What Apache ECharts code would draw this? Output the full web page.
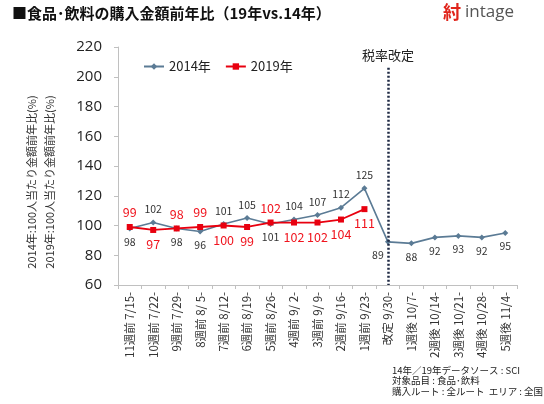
<!DOCTYPE html>
<html>
<head>
<meta charset="utf-8">
<script src="https://cdn.jsdelivr.net/npm/echarts@6/dist/echarts.min.js"></script>
<style>
html,body{margin:0;padding:0;background:#fff;}
#c{width:544px;height:404px;}
</style>
</head>
<body>
<div id="c"></div>
<script>
var categories = ['11週前 7/15-','10週前 7/22-','9週前 7/29-','8週前 8/ 5-','7週前 8/12-','6週前 8/19-','5週前 8/26-','4週前 9/ 2-','3週前 9/ 9-','2週前 9/16-','1週前 9/23-','改定 9/30-','1週後 10/7-','2週後 10/14-','3週後 10/21-','4週後 10/28-','5週後 11/4-'];
var values2014 = [98,102,98,96,101,105,101,104,107,112,125,89,88,92,93,92,95];
var values2019 = [99,97,98,99,100,99,102,102,102,104,111,null,null,null,null,null,null];
var labelPos2014 = ['bottom','top','bottom','bottom','top','top','bottom','top','top','top','top','left','bottom','bottom','bottom','bottom','bottom'];
var labelPos2019 = ['top','bottom','top','top','bottom','bottom','top','bottom','bottom','bottom','bottom'];
var yTicks = {min:60, max:220, interval:20};
var revisionCategory = '改定 9/30-';
var footnotes = ['14年／19年データソース : SCI','対象品目 : 食品･飲料','購入ルート : 全ルート  エリア : 全国'];

var FONT = '"Noto Sans CJK JP","Noto Sans",sans-serif';
var C2014 = '#5b7b95';
var C2019 = '#e8000f';

function buildData(vals, pos){
  return vals.map(function(v,i){
    if (v === null) return null;
    var p = pos[i];
    var lab = {position: p === 'left' ? 'bottom' : p};
    if (p === 'left') { lab.offset = [-10, 0]; }
    return {value: v, label: lab};
  });
}

var graphics = [
  {type:'text', left:12, top:6, style:{text:'■食品･飲料の購入金額前年比（19年vs.14年）', font:'bold 15px '+FONT, fill:'#111'}},
  {type:'text', left:443, top:3, style:{text:'紂', font:'bold 18px '+FONT, fill:'#e0241b'}},
  {type:'text', left:465, top:4, style:{text:'intage', font:'17px "Open Sans","Noto Sans",sans-serif', fill:'#555'}},
  {type:'text', x:32, y:182, rotation:Math.PI/2, style:{text:'2014年:100人当たり金額前年比(%)', font:'11px '+FONT, fill:'#333', textAlign:'center', textVerticalAlign:'middle'}},
  {type:'text', x:50, y:182, rotation:Math.PI/2, style:{text:'2019年:100人当たり金額前年比(%)', font:'11px '+FONT, fill:'#333', textAlign:'center', textVerticalAlign:'middle'}}
];
footnotes.forEach(function(t, i){
  graphics.push({type:'text', x:392, y:370 + i*10.7, style:{text:t, font:'9.5px '+FONT, fill:'#222', textVerticalAlign:'middle'}});
});

var chart = echarts.init(document.getElementById('c'), null, {renderer:'canvas'});
chart.setOption({
  animation:false,
  backgroundColor:'#fff',
  textStyle:{fontFamily:FONT},
  grid:{left:118, right:27, top:47, bottom:119, containLabel:false},
  legend:{
    left:138, top:55, itemWidth:20, itemHeight:8, itemGap:14,
    textStyle:{fontSize:13, color:'#222', fontFamily:FONT},
    data:['2014年','2019年']
  },
  xAxis:{
    type:'category', data:categories, boundaryGap:true,
    axisLine:{lineStyle:{color:'#c0c0c0', width:1}},
    axisTick:{show:true, length:4, lineStyle:{color:'#c0c0c0'}},
    axisLabel:{rotate:90, interval:0, fontSize:11.5, color:'#333', margin:7, fontFamily:FONT}
  },
  yAxis:{
    type:'value', min:yTicks.min, max:yTicks.max, interval:yTicks.interval,
    axisLine:{show:true, lineStyle:{color:'#c0c0c0', width:1}},
    axisTick:{show:true, length:4, lineStyle:{color:'#c0c0c0'}},
    splitLine:{show:false},
    axisLabel:{fontSize:15, color:'#222', margin:16, fontFamily:'"Open Sans","Noto Sans",sans-serif'}
  },
  series:[
    {
      name:'2014年', type:'line', data:buildData(values2014, labelPos2014),
      symbol:'diamond', symbolSize:6, color:C2014,
      lineStyle:{width:1.6, color:C2014}, itemStyle:{color:C2014},
      label:{show:true, fontSize:10.5, color:'#333', distance:5, fontFamily:FONT},
      markLine:{
        silent:true, symbol:['none','none'],
        lineStyle:{type:[2,2], width:2.5, color:'#1f2a44'},
        label:{show:true, position:'start', formatter:'税率改定', fontSize:13, color:'#222', distance:6, fontFamily:FONT},
        data:[[{xAxis:revisionCategory, yAxis:206},{xAxis:revisionCategory, yAxis:60}]]
      },
      z:3
    },
    {
      name:'2019年', type:'line', data:buildData(values2019, labelPos2019),
      symbol:'rect', symbolSize:6, color:C2019,
      lineStyle:{width:1.8, color:C2019}, itemStyle:{color:C2019},
      label:{show:true, fontSize:12.5, color:'#f0141e', distance:5, fontFamily:FONT},
      z:4
    }
  ],
  graphic:graphics
});
</script>
</body>
</html>
